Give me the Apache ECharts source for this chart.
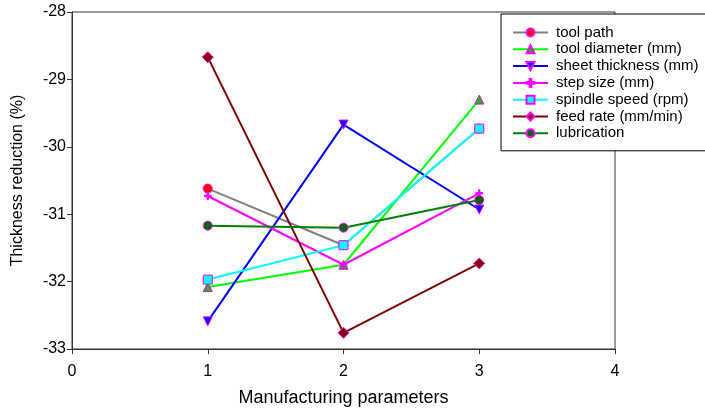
<!DOCTYPE html>
<html>
<head>
<meta charset="utf-8">
<script src="https://cdn.jsdelivr.net/npm/echarts@6/dist/echarts.min.js"></script>
<style>
  html, body { margin: 0; padding: 0; background: #fff; }
  #chart { width: 705px; height: 408px; }
</style>
</head>
<body>
<div id="chart"></div>
<script>
// Manufacturing parameter levels on the x axis
const levels = [1, 2, 3];

// Thickness reduction (%) for each parameter at each level
const toolPath       = [-30.62, -31.46, -29.73];
const toolDiameter   = [-32.08, -31.75, -29.30];
const sheetThickness = [-32.59, -29.67, -30.93];
const stepSize       = [-30.73, -31.75, -30.69];
const spindleSpeed   = [-31.97, -31.46, -29.73];
const feedRate       = [-28.67, -32.76, -31.73];
const lubrication    = [-31.17, -31.20, -30.79];

const seriesNames = [
  'tool path',
  'tool diameter (mm)',
  'sheet thickness (mm)',
  'step size (mm)',
  'spindle speed (rpm)',
  'feed rate (mm/min)',
  'lubrication'
];

const xTicks = [0, 1, 2, 3, 4];
const yTicks = [-33, -32, -31, -30, -29, -28];

const plusPath = 'path://M4,0 L6,0 L6,4 L10,4 L10,6 L6,6 L6,10 L4,10 L4,6 L0,6 L0,4 L4,4 Z';

function pairs(values) {
  return levels.map((x, i) => [x, values[i]]);
}

function lineSeries(name, values, color, symbol, fill, opts) {
  return Object.assign({
    name: name,
    type: 'line',
    data: pairs(values),
    symbol: symbol,
    symbolSize: 9,
    lineStyle: { color: color, width: 2 },
    itemStyle: { color: fill, borderColor: '#ff00ff', borderWidth: 1 },
    emphasis: { disabled: true },
    animation: false
  }, opts || {});
}

const chart = echarts.init(document.getElementById('chart'), null, { renderer: 'canvas' });

chart.setOption({
  backgroundColor: '#ffffff',
  textStyle: { fontFamily: 'Liberation Sans, Arial, sans-serif' },
  grid: {
    left: 72, top: 12, right: 90, bottom: 59,
    outerBoundsMode: 'none',
    containLabel: false,
    show: true, borderColor: '#333', borderWidth: 1
  },
  legend: {
    orient: 'vertical',
    left: 501, top: 14,
    padding: [11, 40, 10, 11],
    itemWidth: 35,
    itemHeight: 10,
    itemGap: 1.8,
    backgroundColor: '#fff',
    borderColor: '#000',
    borderWidth: 1,
    textStyle: { color: '#000', fontSize: 15, padding: [0, 0, 0, 3] },
    data: seriesNames
  },
  xAxis: {
    type: 'value',
    min: xTicks[0], max: xTicks[xTicks.length - 1], interval: 1,
    name: 'Manufacturing parameters',
    nameLocation: 'middle',
    nameGap: 40,
    nameTextStyle: { color: '#000', fontSize: 18 },
    axisLine: { show: true, onZero: false, lineStyle: { color: '#333', width: 1 } },
    axisTick: { show: true, length: 5, lineStyle: { color: '#333' } },
    axisLabel: { color: '#000', fontSize: 16, margin: 15 },
    splitLine: { show: false }
  },
  yAxis: {
    type: 'value',
    min: yTicks[0], max: yTicks[yTicks.length - 1], interval: 1,
    name: 'Thickness reduction (%)',
    nameLocation: 'middle',
    nameGap: 46,
    nameTextStyle: { color: '#000', fontSize: 16 },
    axisLine: { show: true, onZero: false, lineStyle: { color: '#333', width: 1 } },
    axisTick: { show: true, length: 5, lineStyle: { color: '#333' } },
    axisLabel: { color: '#000', fontSize: 16, margin: 6 },
    splitLine: { show: false }
  },
  series: [
    lineSeries(seriesNames[0], toolPath, '#808080', 'circle', '#ff0000'),
    lineSeries(seriesNames[1], toolDiameter, '#00ff00', 'triangle', '#00c000'),
    lineSeries(seriesNames[2], sheetThickness, '#0000ff', 'triangle', '#0000ff', { symbolRotate: 180 }),
    lineSeries(seriesNames[3], stepSize, '#ff00ff', plusPath, '#ff00ff', { symbolSize: 7 }),
    lineSeries(seriesNames[4], spindleSpeed, '#00ffff', 'rect', '#00ffff'),
    lineSeries(seriesNames[5], feedRate, '#800000', 'diamond', '#800000', { symbolSize: 11 }),
    lineSeries(seriesNames[6], lubrication, '#008000', 'circle', '#006400')
  ]
});
</script>
</body>
</html>
